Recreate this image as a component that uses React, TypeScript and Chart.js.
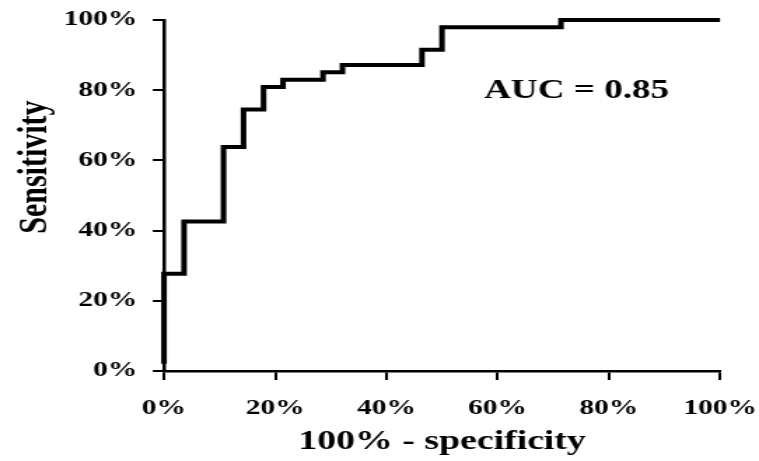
import React, { useEffect, useRef } from "react";
import { Chart, registerables } from "chart.js";

Chart.register(...registerables);

// ROC curve corner points (100% - specificity, sensitivity), in percent
const fprValues = [0, 0, 3.6, 10.7, 14.3, 17.9, 21.4, 28.6, 32.1, 46.4, 50.0, 71.4, 100];
const sensValues = [2.1, 27.7, 42.6, 63.8, 74.5, 80.9, 83.0, 85.1, 87.2, 91.5, 97.9, 100, 100];

const xTickValues = [0, 20, 40, 60, 80, 100];
const yTickValues = [0, 20, 40, 60, 80, 100];

const xTitle = "100% - specificity";
const yTitle = "Sensitivity";
const aucLabel = "AUC = 0.85";
const aucPosition = { x: 74.2, y: 79.8 };

const PAGE_W = 759;
const PAGE_H = 461;
const CANVAS_W = 542;
const STRETCH = PAGE_W / CANVAS_W;
const FONT = '"Liberation Serif", "Times New Roman", serif';

export default function App() {
  const ref = useRef<HTMLCanvasElement>(null);

  useEffect(() => {
    document.body.style.margin = "0";
    document.body.style.overflow = "hidden";

    const textPlugin = {
      id: "rocText",
      afterDraw(chart: any) {
        const ctx = chart.ctx;
        const { top, bottom } = chart.chartArea;
        ctx.save();
        ctx.fillStyle = "#000";
        ctx.textAlign = "center";
        ctx.textBaseline = "middle";
        // AUC annotation
        ctx.font = `bold 26.5px ${FONT}`;
        ctx.fillText(
          aucLabel,
          chart.scales.x.getPixelForValue(aucPosition.x),
          chart.scales.y.getPixelForValue(aucPosition.y)
        );
        // Y axis title
        ctx.font = `bold 30px ${FONT}`;
        ctx.translate(25, top + 0.419 * (bottom - top));
        ctx.rotate(-Math.PI / 2);
        ctx.fillText(yTitle, 0, 0);
        ctx.restore();
      },
    };

    const chart = new Chart(ref.current!, {
      type: "line",
      data: {
        datasets: [
          {
            data: fprValues.map((x, i) => ({ x, y: sensValues[i] })),
            borderColor: "#000",
            borderWidth: 4,
            pointRadius: 0,
            stepped: true,
            fill: false,
            clip: false,
            borderJoinStyle: "miter",
            borderCapStyle: "butt",
          } as any,
        ],
      },
      options: {
        animation: false,
        responsive: false,
        devicePixelRatio: 1,
        plugins: { legend: { display: false }, tooltip: { enabled: false } },
        layout: {
          padding: { top: 20, right: CANVAS_W - 720 / STRETCH, bottom: 0, left: 0 },
        },
        scales: {
          x: {
            type: "linear",
            min: 0,
            max: 100,
            afterBuildTicks: (s: any) => {
              s.ticks = xTickValues.map((v) => ({ value: v }));
            },
            ticks: {
              callback: (v: any) => v + "%",
              color: "#000",
              font: { family: FONT, size: 21, weight: "bold" },
              padding: 16,
              maxRotation: 0,
              autoSkip: false,
            },
            grid: { drawOnChartArea: false, color: "#000", lineWidth: 2, tickLength: 9 },
            border: { color: "#000", width: 2.5 },
            title: {
              display: true,
              text: xTitle,
              color: "#000",
              font: { family: FONT, size: 27, weight: "bold" },
              padding: { top: 0, bottom: 3 },
            },
            afterFit: (s: any) => {
              s.height = 90;
              s.paddingLeft = 0;
              s.paddingRight = 0;
            },
          },
          y: {
            type: "linear",
            min: 0,
            max: 100,
            afterBuildTicks: (s: any) => {
              s.ticks = yTickValues.map((v) => ({ value: v }));
            },
            ticks: {
              callback: (v: any) => v + "%",
              color: "#000",
              font: { family: FONT, size: 21, weight: "bold" },
              padding: 11,
              autoSkip: false,
            },
            grid: { drawOnChartArea: false, color: "#000", lineWidth: 2, tickLength: 8 },
            border: { color: "#000", width: 2.5 },
            afterFit: (s: any) => {
              s.width = 164 / STRETCH;
              s.paddingTop = 0;
              s.paddingBottom = 0;
            },
          },
        },
      } as any,
      plugins: [textPlugin],
    });
    return () => chart.destroy();
  }, []);

  return (
    <div style={{ width: PAGE_W, height: PAGE_H, overflow: "hidden", background: "#fff" }}>
      <div
        style={{
          width: CANVAS_W,
          height: PAGE_H,
          transform: `scaleX(${STRETCH})`,
          transformOrigin: "0 0",
        }}
      >
        <canvas ref={ref} width={CANVAS_W} height={PAGE_H} />
      </div>
    </div>
  );
}
